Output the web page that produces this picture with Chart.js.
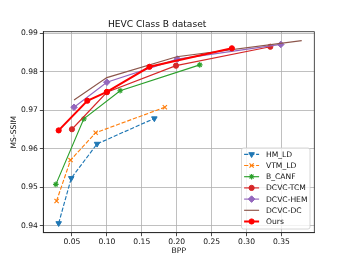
<!DOCTYPE html>
<html>
<head>
<meta charset="utf-8">
<script src="https://cdn.jsdelivr.net/npm/chart.js@4.4.0/dist/chart.umd.min.js"></script>
<style>
  html, body { margin: 0; padding: 0; background: #fff; }
  #wrap { width: 349px; height: 262px; position: relative; }
</style>
</head>
<body>
<div id="wrap"><canvas id="chart"></canvas></div>
<script>
/* ---------- data ---------- */
const xTicks = [0.05, 0.10, 0.15, 0.20, 0.25, 0.30, 0.35];
const yTicks = [0.94, 0.95, 0.96, 0.97, 0.98, 0.99];

const hmLdBpp   = [0.031, 0.049, 0.086, 0.168];
const hmLdSsim  = [0.9407, 0.9524, 0.9613, 0.9679];

const vtmLdBpp  = [0.028, 0.048, 0.084, 0.183];
const vtmLdSsim = [0.9465, 0.9571, 0.9642, 0.9708];

const canfBpp   = [0.027, 0.067, 0.119, 0.233];
const canfSsim  = [0.9508, 0.9678, 0.9751, 0.9818];

const tcmBpp    = [0.050, 0.100, 0.199, 0.334];
const tcmSsim   = [0.9651, 0.9747, 0.9816, 0.9865];

const hemBpp    = [0.053, 0.100, 0.201, 0.349];
const hemSsim   = [0.9708, 0.9773, 0.9833, 0.9871];

const dcBpp     = [0.053, 0.100, 0.200, 0.379];
const dcSsim    = [0.9727, 0.9785, 0.9839, 0.9881];

const oursBpp   = [0.031, 0.072, 0.100, 0.161, 0.279];
const oursSsim  = [0.9648, 0.9725, 0.9748, 0.9813, 0.9861];

/* ---------- helpers ---------- */
const FONT = "'DejaVu Sans', sans-serif";
const pts = (xs, ys) => xs.map((x, i) => ({ x: x, y: ys[i] }));

function series(label, xs, ys, color, opts) {
  return Object.assign({
    label: label,
    data: pts(xs, ys),
    showLine: true,
    borderColor: color,
    backgroundColor: color,
    pointBackgroundColor: color,
    pointBorderColor: color,
    borderWidth: 1.15,
    pointBorderWidth: 1,
    pointRadius: 2.6,
    pointStyle: 'circle',
    pointRotation: 0,
    borderDash: [],
  }, opts);
}

const datasets = [
  series('HM_LD',     hmLdBpp,  hmLdSsim,  '#1f77b4', { borderDash: [4.2, 1.8], pointStyle: 'triangle', pointRotation: 180, pointRadius: 3.2 }),
  series('VTM_LD',    vtmLdBpp, vtmLdSsim, '#ff7f0e', { borderDash: [4.2, 1.8], pointStyle: 'crossRot', pointRadius: 3, pointBorderWidth: 1.2 }),
  series('B_CANF',    canfBpp,  canfSsim,  '#2ca02c', { pointStyle: 'star', pointRadius: 2.8, pointBorderWidth: 1.1 }),
  series('DCVC-TCM',  tcmBpp,   tcmSsim,   '#d62728', { pointRadius: 2.6 }),
  series('DCVC-HEM',  hemBpp,   hemSsim,   '#9467bd', { pointStyle: 'rectRot', pointRadius: 3.3 }),
  series('DCVC-DC',   dcBpp,    dcSsim,    '#8c564b', { pointRadius: 0 }),
  series('Ours',      oursBpp,  oursSsim,  '#ff0000', { borderWidth: 2, pointRadius: 2.6 }),
];
// later series drawn on top, like matplotlib
datasets.forEach((d, i) => { d.order = datasets.length - i; });

/* ---------- plugins ---------- */
const frame = {
  id: 'frame',
  afterDatasetsDraw(chart) {
    const { ctx, chartArea: a } = chart;
    ctx.save();
    ctx.strokeStyle = '#222';
    ctx.lineWidth = 0.8;
    ctx.strokeRect(a.left, a.top, a.right - a.left, a.bottom - a.top);
    ctx.restore();
  }
};

const legendBox = {
  id: 'legendBox',
  afterDraw(chart) {
    const { ctx, chartArea: a } = chart;
    const w = 68.5, h = 81;
    const x0 = a.right - 4.3 - w, y0 = a.bottom - 3.7 - h;
    ctx.save();
    ctx.beginPath();
    ctx.roundRect(x0, y0, w, h, 2);
    ctx.fillStyle = 'rgba(255,255,255,0.8)';
    ctx.fill();
    ctx.strokeStyle = '#cccccc';
    ctx.lineWidth = 0.8;
    ctx.stroke();

    chart.data.datasets.forEach((d, i) => {
      const y = y0 + 6.3 + i * 11.2;
      ctx.strokeStyle = d.borderColor;
      ctx.lineWidth = d.borderWidth;
      ctx.setLineDash(d.borderDash || []);
      ctx.beginPath();
      ctx.moveTo(x0 + 2.6, y);
      ctx.lineTo(x0 + 17.6, y);
      ctx.stroke();
      ctx.setLineDash([]);
      if (d.pointRadius > 0) {
        ctx.fillStyle = d.pointBackgroundColor;
        ctx.strokeStyle = d.pointBorderColor;
        ctx.lineWidth = d.pointBorderWidth;
        Chart.helpers.drawPoint(ctx, {
          pointStyle: d.pointStyle,
          rotation: d.pointRotation,
          radius: d.pointRadius,
          borderWidth: d.pointBorderWidth,
        }, x0 + 10.1, y);
      }
      ctx.fillStyle = '#111';
      ctx.font = '7.6px ' + FONT;
      ctx.textBaseline = 'middle';
      ctx.textAlign = 'left';
      ctx.fillText(d.label, x0 + 24.5, y + 0.5);
    });
    ctx.restore();
  }
};

/* ---------- chart ---------- */
new Chart(document.getElementById('chart'), {
  type: 'scatter',
  data: { datasets: datasets },
  plugins: [frame, legendBox],
  options: {
    responsive: true,
    maintainAspectRatio: false,
    animation: false,
    layout: { padding: { left: 0, right: 34.7, top: 0, bottom: 0 } },
    plugins: {
      legend: { display: false },
      tooltip: { enabled: false },
      title: {
        display: true,
        text: 'HEVC Class B dataset',
        color: '#111',
        font: { family: FONT, size: 9.1, weight: 'normal' },
        padding: { top: 19.5, bottom: 1.3 },
      },
    },
    scales: {
      x: {
        type: 'linear',
        min: 0.009,
        max: 0.397,
        afterBuildTicks: s => { s.ticks = xTicks.map(v => ({ value: v })); },
        afterFit: s => { s.height = 29.3; },
        ticks: {
          color: '#111',
          font: { family: FONT, size: 7.6 },
          padding: 1,
          maxRotation: 0,
          callback: v => v.toFixed(2),
        },
        grid: { color: '#b0b0b0', lineWidth: 0.8, tickLength: 3.5, tickColor: '#222', tickWidth: 0.8 },
        border: { color: '#222', width: 0.8 },
        title: {
          display: true,
          text: 'BPP',
          color: '#111',
          font: { family: FONT, size: 7.6 },
          padding: { top: 0, bottom: 6 },
        },
      },
      y: {
        type: 'linear',
        min: 0.93826,
        max: 0.9904,
        afterBuildTicks: s => { s.ticks = yTicks.map(v => ({ value: v })); },
        afterFit: s => { s.width = 43.3; },
        ticks: {
          color: '#111',
          font: { family: FONT, size: 7.6 },
          padding: 2,
          callback: v => v.toFixed(2),
        },
        grid: { color: '#b0b0b0', lineWidth: 0.8, tickLength: 3.5, tickColor: '#222', tickWidth: 0.8 },
        border: { color: '#222', width: 0.8 },
        title: {
          display: true,
          text: 'MS-SSIM',
          color: '#111',
          font: { family: FONT, size: 7.6 },
          padding: { top: 9, bottom: 0 },
        },
      },
    },
  },
});
</script>
</body>
</html>
